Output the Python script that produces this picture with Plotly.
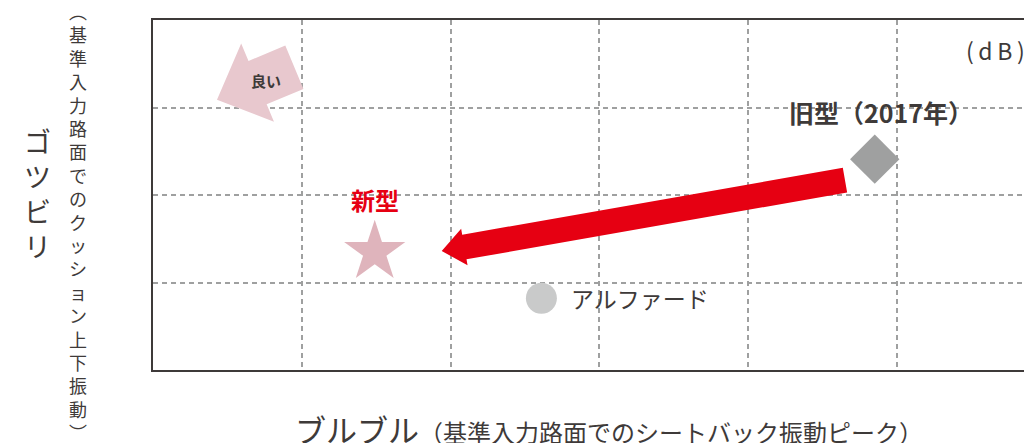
import numpy as np
import plotly.graph_objects as go

# data (dB)
models = ['新型', '旧型（2017年）', 'アルファード']
buruburu = [1.49, 4.85, 2.61]   # x: seat-back vibration peak
gotsubiri = [1.35, 2.41, 0.82]  # y: cushion vertical vibration
x_ticks = [0, 1, 2, 3, 4, 5]
y_ticks = [0, 1, 2, 3, 4]

# improvement arrow old -> new (tail, tip) in axis units
improve_tail = [4.65, 2.17]
improve_tip = [1.94, 1.36]
# decorative "good" direction arrow (tail, tip) in axis units
good_tail = [0.95, 3.46]
good_tip = [0.43, 3.09]
good_label = [0.76, 3.31]

TEXT = '#3e3a39'
RED = '#e60012'
FONT = 'Noto Sans CJK JP'

W, H = 1024, 443
L, R, T, B = 153, 0, 20, 73
pw, ph = W - L - R, H - T - B
XR = [0, 5.853]
YR = [0, 4]
sx = pw / (XR[1] - XR[0])
sy = ph / (YR[1] - YR[0])


def block_arrow(tail, tip, shaft_w, head_w, head_len):
    """Block arrow outline (pixel sizes) returned in axis units."""
    t = np.array([tail[0] * sx, tail[1] * sy])
    p = np.array([tip[0] * sx, tip[1] * sy])
    u = (p - t) / np.linalg.norm(p - t)
    n = np.array([-u[1], u[0]])
    base = p - head_len * u
    pts = [t + shaft_w / 2 * n, base + shaft_w / 2 * n, base + head_w / 2 * n, p,
           base - head_w / 2 * n, base - shaft_w / 2 * n, t - shaft_w / 2 * n]
    xs = [q[0] / sx for q in pts]
    ys = [q[1] / sy for q in pts]
    return xs + [xs[0]], ys + [ys[0]]


fig = go.Figure()

gx, gy = block_arrow(good_tail, good_tip, 47, 85, 44)
fig.add_trace(go.Scatter(x=gx, y=gy, mode='lines', fill='toself', fillcolor='#e8c8ce',
                         line=dict(width=0), hoverinfo='skip'))
ax_, ay_ = block_arrow(improve_tail, improve_tip, 25, 37, 23)
fig.add_trace(go.Scatter(x=ax_, y=ay_, mode='lines', fill='toself', fillcolor=RED,
                         line=dict(width=0), hoverinfo='skip'))

# markers
fig.add_trace(go.Scatter(
    x=[buruburu[0]], y=[gotsubiri[0]], mode='markers',
    marker=dict(symbol='star', size=46, color='#dfb4bc', line=dict(width=0)),
    hoverinfo='skip'
))
fig.add_trace(go.Scatter(
    x=[buruburu[1]], y=[gotsubiri[1]], mode='markers',
    marker=dict(symbol='diamond', size=38, color='#9fa0a0', line=dict(width=0)),
    hoverinfo='skip'
))
fig.add_trace(go.Scatter(
    x=[buruburu[2]], y=[gotsubiri[2]], mode='markers',
    marker=dict(symbol='circle', size=31, color='#c9caca', line=dict(width=0)),
    hoverinfo='skip'
))

annotations = [
    dict(x=good_label[0], y=good_label[1], xref='x', yref='y', text='<b>良い</b>',
         showarrow=False, font=dict(family=FONT, size=15, color=TEXT)),
    # point labels
    dict(x=buruburu[0], y=gotsubiri[0], xref='x', yref='y', text='<b>' + models[0] + '</b>',
         showarrow=False, yshift=52, font=dict(family=FONT, size=24, color=RED)),
    dict(x=buruburu[1], y=gotsubiri[1], xref='x', yref='y', text='<b>' + models[1] + '</b>',
         showarrow=False, yshift=47, xshift=6, font=dict(family=FONT, size=25, color=TEXT)),
    dict(x=buruburu[2], y=gotsubiri[2], xref='x', yref='y', text=models[2],
         showarrow=False, xanchor='left', xshift=28, font=dict(family=FONT, size=23, color=TEXT)),
    # unit
    dict(x=1.0, y=1.0, xref='paper', yref='paper', text='(\u2009d\u2009B\u2009)',
         xanchor='right', yanchor='middle',
         showarrow=False, xshift=3, yshift=-30, font=dict(family=FONT, size=23, color=TEXT)),
    # y title
    dict(x=37, y=193, xref='paper', yref='paper', text='<br>'.join('ゴツビリ'),
         xanchor='center', yanchor='middle',
         showarrow=False, font=dict(family=FONT, size=27, color=TEXT)),
    dict(x=78, y=221, xref='paper', yref='paper',
         text='<br>'.join('︵基準入力路面でのクッション上下振動︶'),
         xanchor='center', yanchor='middle',
         showarrow=False, font=dict(family=FONT, size=18, color=TEXT)),
    # x title
    dict(x=293, y=428, xref='paper', yref='paper', xanchor='left', yanchor='middle',
         text='<span style="font-size:31px">ブルブル</span>（基準入力路面でのシートバック振動ピーク）',
         showarrow=False, font=dict(family=FONT, size=24, color=TEXT)),
]

# pixel-placed title annotations -> paper coords
for a in annotations:
    if a.get('xref') == 'paper' and a['x'] > 1.5:
        a['x'] = (a['x'] - L) / pw
        a['y'] = (H - B - a['y']) / ph

fig.update_layout(
    width=W, height=H,
    margin=dict(l=L, r=R, t=T, b=B),
    plot_bgcolor='white', paper_bgcolor='white',
    showlegend=False,
    annotations=annotations,
    font=dict(family=FONT),
    xaxis=dict(range=XR, tickvals=x_ticks, showticklabels=False, ticks='',
               showgrid=True, gridcolor='#9fa0a0', gridwidth=2, griddash='5px,4px',
               zeroline=False, showline=True, linecolor=TEXT, linewidth=2, mirror=True,
               fixedrange=True),
    yaxis=dict(range=YR, tickvals=y_ticks, showticklabels=False, ticks='',
               showgrid=True, gridcolor='#9fa0a0', gridwidth=2, griddash='5px,4px',
               zeroline=False, showline=True, linecolor=TEXT, linewidth=2,
               fixedrange=True),
)

fig.write_html("out.html", config={'displayModeBar': False},
               post_script="document.body.style.margin='0';document.body.style.overflow='hidden';")
